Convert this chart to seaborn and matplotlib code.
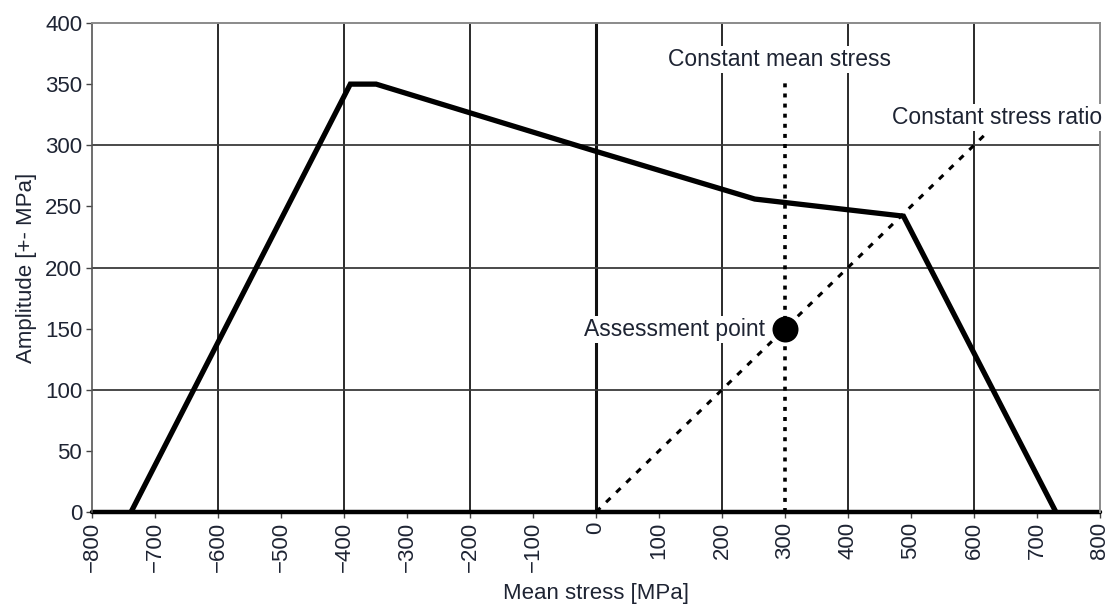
import matplotlib
matplotlib.use("Agg")
import matplotlib.pyplot as plt
import seaborn as sns
import pandas as pd

# Haigh diagram: allowable amplitude vs. mean stress
mean_stress = [-738, -390, -349, 0, 252, 488, 730]
amplitude = [0, 350, 350, 295, 256, 242, 0]

# Load paths through the assessment point
const_mean_x = [300, 300]
const_mean_y = [0, 355]
const_ratio_x = [0, 618]
const_ratio_y = [0, 309]

assess_x = [300]
assess_y = [150]

x_ticks = list(range(-800, 801, 100))
y_ticks = list(range(0, 401, 50))
x_grid = [-600, -400, -200, 200, 400, 600]
y_grid = [100, 200, 300]

sns.set_theme(style="white")
plt.rcParams["font.family"] = ["Liberation Sans", "DejaVu Sans"]
plt.rcParams["axes.unicode_minus"] = True

txt_color = "#1e2433"

fig = plt.figure(figsize=(11.09, 6.06), dpi=100)
ax = fig.add_axes([92 / 1109, 1 - 512 / 606, 1008 / 1109, 489 / 606])

# grid
for gx in x_grid:
    ax.axvline(gx, color="#2a2a2a", lw=1.4, zorder=1)
ax.axvline(0, color="#111111", lw=2.2, zorder=1)
for gy in y_grid:
    ax.axhline(gy, color="#3a3a3a", lw=1.3, zorder=1)
ax.axhline(0, color="#000000", lw=3.2, zorder=2, clip_on=False)

curve = pd.DataFrame({"mean": mean_stress, "amp": amplitude})
sns.lineplot(data=curve, x="mean", y="amp", sort=False, estimator=None,
             color="black", lw=3.8, ax=ax, zorder=4, solid_joinstyle="miter")

mean_path = pd.DataFrame({"x": const_mean_x, "y": const_mean_y})
sns.lineplot(data=mean_path, x="x", y="y", sort=False, estimator=None,
             color="black", lw=2.6, linestyle=(0, (1.1, 1.7)), ax=ax, zorder=3)
ratio_path = pd.DataFrame({"x": const_ratio_x, "y": const_ratio_y})
sns.lineplot(data=ratio_path, x="x", y="y", sort=False, estimator=None,
             color="black", lw=2.2, linestyle=(0, (2.0, 2.6)), ax=ax, zorder=3)

sns.scatterplot(x=assess_x, y=assess_y, s=300, color="black",
                edgecolor="black", ax=ax, zorder=5)

box = dict(facecolor="white", edgecolor="none", pad=1.5)
ax.text(292, 370, "Constant mean stress", ha="center", va="center",
        fontsize=16.5, color=txt_color, bbox=box, zorder=6)
ax.text(637, 323, "Constant stress ratio", ha="center", va="center",
        fontsize=16.5, color=txt_color, bbox=box, zorder=6, clip_on=False)
ax.text(268, 149, "Assessment point", ha="right", va="center",
        fontsize=16.5, color=txt_color, bbox=box, zorder=6)

ax.set_xlim(-800, 800)
ax.set_ylim(0, 400)
ax.set_xticks(x_ticks)
ax.set_yticks(y_ticks)
ax.set_xticklabels([str(v).replace("-", "\u2212") for v in x_ticks],
                   rotation=90, fontsize=16, color=txt_color)
ax.set_yticklabels([str(v) for v in y_ticks], fontsize=16, color=txt_color)
ax.tick_params(axis="both", direction="out", length=4, width=1.0,
               color="#444444", pad=3, bottom=True, left=True)

ax.set_xlabel("Mean stress [MPa]", fontsize=16, color=txt_color, labelpad=8)
ax.set_ylabel("Amplitude [+- MPa]", fontsize=16, color=txt_color, labelpad=6)

for side in ["top", "right"]:
    ax.spines[side].set_color("#8a8a8a")
    ax.spines[side].set_linewidth(1.4)
ax.spines["left"].set_color("#555555")
ax.spines["left"].set_linewidth(1.2)
ax.spines["bottom"].set_visible(False)

fig.savefig("out.png", dpi=100, facecolor="white")
